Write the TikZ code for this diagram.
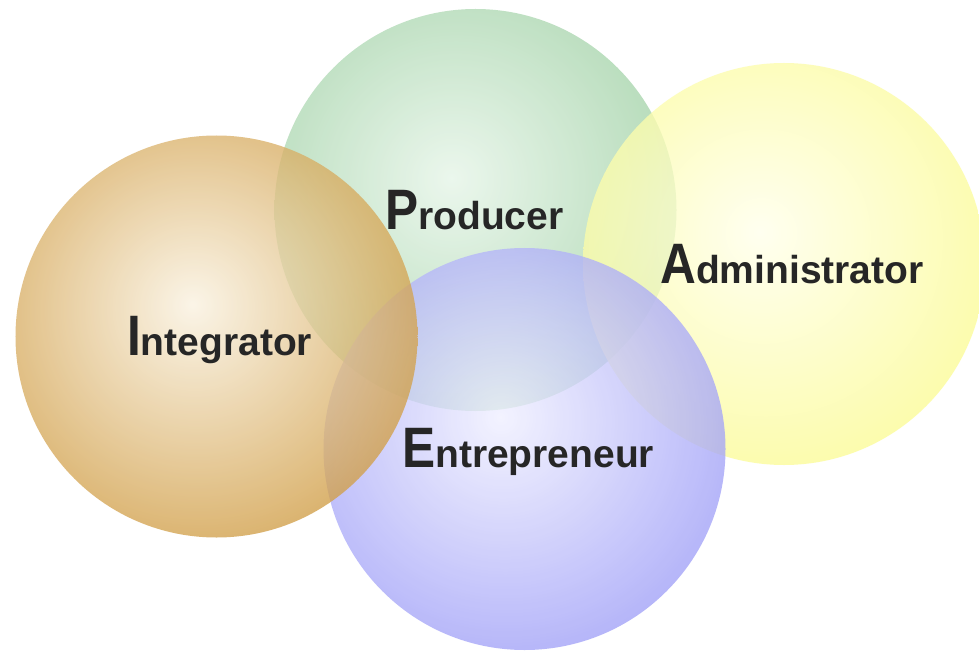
\documentclass[tikz,border=0pt]{standalone}
\usepackage{fontspec}
\setmainfont{Liberation Sans}
\usepackage{graphicx}
\definecolor{intin}{RGB}{250,242,225}
\definecolor{intout}{RGB}{200,140,37}
\definecolor{proin}{RGB}{230,245,232}
\definecolor{proout}{RGB}{143,200,149}
\definecolor{admin}{RGB}{255,255,236}
\definecolor{adout}{RGB}{251,251,131}
\definecolor{entin}{RGB}{240,240,255}
\definecolor{entout}{RGB}{143,143,246}
\definecolor{txt}{RGB}{38,38,38}
\pgfdeclareradialshading{intball}{\pgfpoint{-3bp}{4bp}}{color(0bp)=(intin); color(16bp)=(intin!55!intout); color(35bp)=(intout); color(100bp)=(intout)}
\pgfdeclareradialshading{proball}{\pgfpoint{-3bp}{4bp}}{color(0bp)=(proin); color(16bp)=(proin!55!proout); color(35bp)=(proout); color(100bp)=(proout)}
\pgfdeclareradialshading{adball}{\pgfpoint{-3bp}{4bp}}{color(0bp)=(admin); color(16bp)=(admin!55!adout); color(35bp)=(adout); color(100bp)=(adout)}
\pgfdeclareradialshading{entball}{\pgfpoint{-3bp}{4bp}}{color(0bp)=(entin); color(16bp)=(entin!55!entout); color(35bp)=(entout); color(100bp)=(entout)}
\newcommand{\bigini}[1]{\scalebox{0.87}[1]{\fontsize{57bp}{58bp}\selectfont #1}}
\begin{document}
\begin{tikzpicture}[x=1bp,y=-1bp,
  circ/.style={circle, minimum size=402bp, inner sep=0pt, draw=none, shade, fill opacity=0.78},
  lbl/.style={anchor=base west, inner sep=0pt, text=txt, font=\fontsize{39bp}{40bp}\selectfont\bfseries}]
\useasboundingbox (0,0) rectangle (979,651);
\fill[white] (0,0) rectangle (979,651);
\node[circ, shading=proball] (prodc) at (475.5,210) {};
\node[circ, shading=adball] (admc) at (784,264) {};
\node[circ, shading=entball] (entc) at (524.5,449) {};
\node[circ, shading=intball] (intc) at (216.5,336.5) {};
\node[lbl] (prodt) at (385,229) {\bigini{P}roducer};
\node[lbl] (admt) at (660,283) {\bigini{A}dministrator};
\node[lbl] (entt) at (402,467) {\bigini{E}ntrepreneur};
\node[lbl] (intt) at (127,355) {\bigini{I}ntegrator};
\end{tikzpicture}
\end{document}
